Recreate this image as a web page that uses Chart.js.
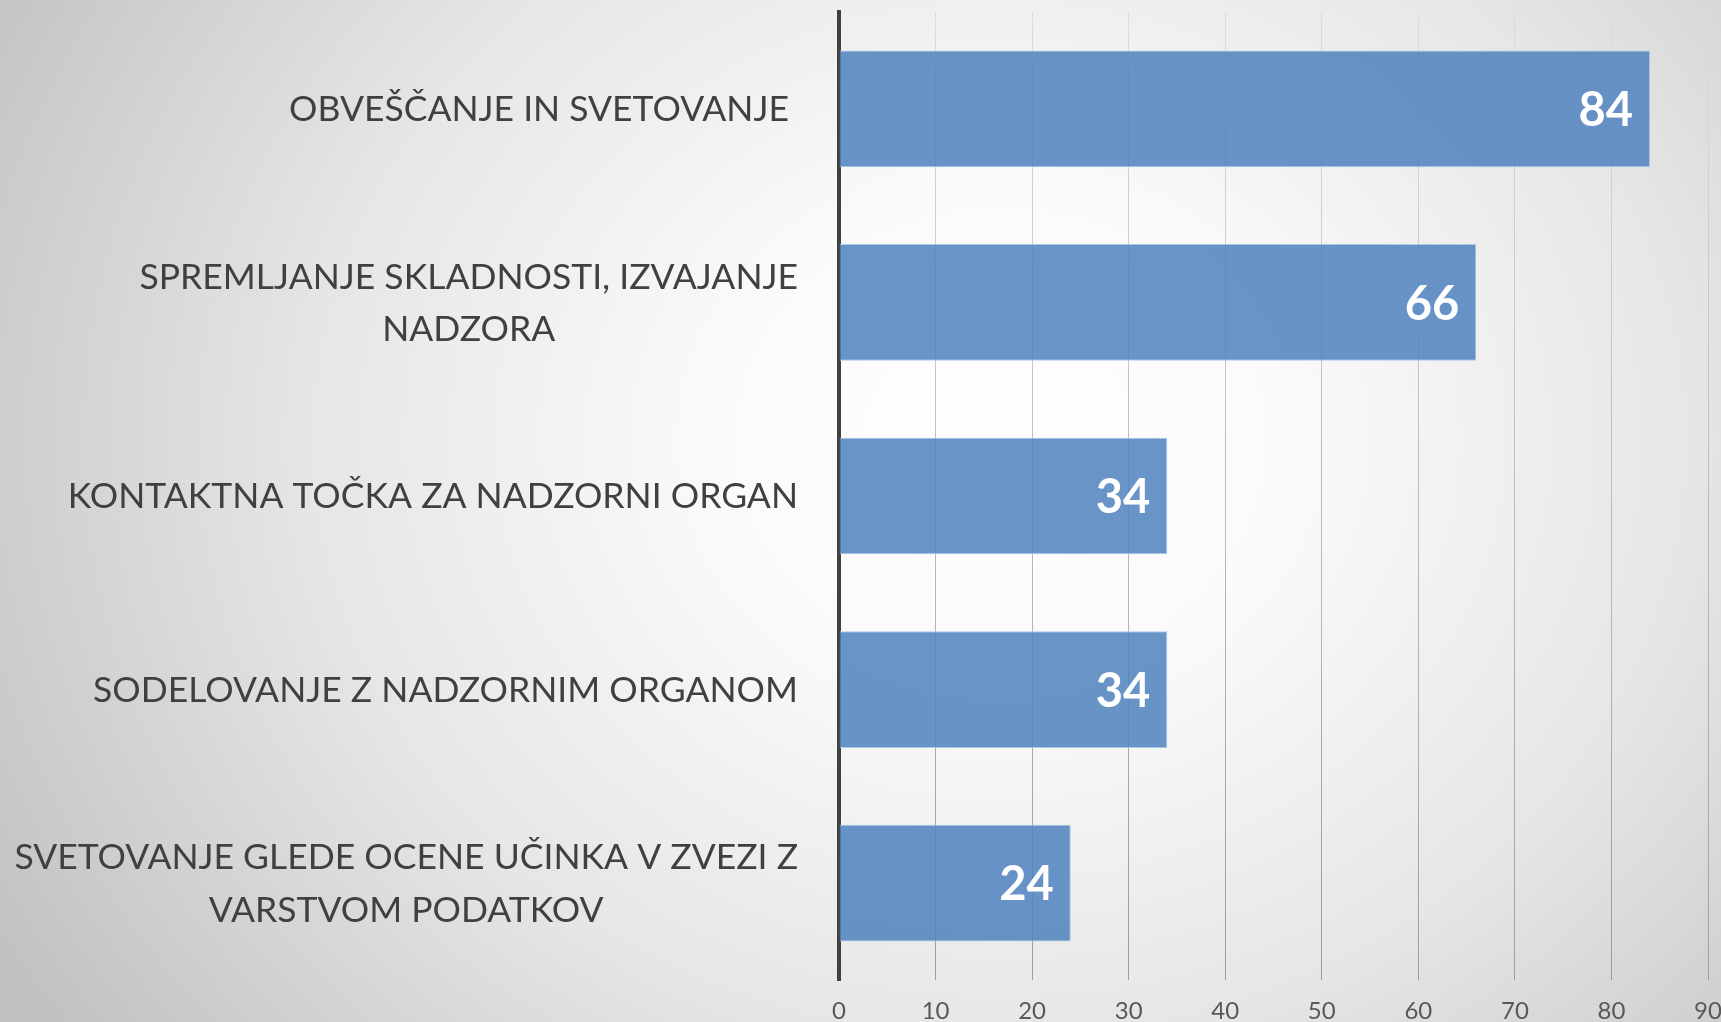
<!DOCTYPE html>
<html>
<head>
<meta charset="utf-8">
<script src="https://cdn.jsdelivr.net/npm/chart.js@4.4.1/dist/chart.umd.min.js"></script>
<style>
  html, body { margin: 0; padding: 0; width: 1721px; height: 1022px; overflow: hidden; }
  body {
    background: radial-gradient(ellipse 1150px 1000px at 1000px 440px,
      #ffffff 0%, #fafafa 25%, #e6e6e6 60%, #cbcbcb 90%, #c2c2c2 100%);
  }
  #wrap { position: absolute; left: 0; top: 0; width: 1721px; height: 1022px; }
</style>
</head>
<body>
<div id="wrap"><canvas id="c" width="1721" height="1022"></canvas></div>
<script>
const categories = [
  ["OBVEŠČANJE IN SVETOVANJE "],
  ["SPREMLJANJE SKLADNOSTI, IZVAJANJE", "NADZORA"],
  ["KONTAKTNA TOČKA ZA NADZORNI ORGAN"],
  ["SODELOVANJE Z NADZORNIM ORGANOM"],
  ["SVETOVANJE GLEDE OCENE UČINKA V ZVEZI Z", "VARSTVOM PODATKOV"]
];
const values = [84, 66, 34, 34, 24];
const xMin = 0;
const xMax = 90;
const xStep = 10;

const valueLabels = {
  id: 'valueLabels',
  afterDatasetsDraw(chart) {
    const ctx = chart.ctx;
    const meta = chart.getDatasetMeta(0);
    ctx.save();
    ctx.font = 'bold 47px Lato';
    ctx.fillStyle = '#ffffff';
    ctx.textAlign = 'right';
    ctx.textBaseline = 'middle';
    meta.data.forEach((bar, i) => {
      ctx.fillText(String(values[i]), bar.x - 17, bar.y + 2);
    });
    ctx.restore();
  }
};

const categoryLabels = {
  id: 'categoryLabels',
  afterDraw(chart) {
    const ctx = chart.ctx;
    const yScale = chart.scales.y;
    const right = chart.chartArea.left - 41;
    const lh = 52.7;
    ctx.save();
    ctx.font = '35.5px Lato';
    ctx.fillStyle = '#404040';
    ctx.textAlign = 'center';
    ctx.textBaseline = 'middle';
    categories.forEach((lines, i) => {
      const cy = yScale.getPixelForValue(i);
      const w = Math.max(...lines.map(l => ctx.measureText(l).width));
      const cx = right - w / 2;
      lines.forEach((l, j) => {
        ctx.fillText(l, cx, cy + (j - (lines.length - 1) / 2) * lh + 1);
      });
    });
    ctx.restore();
  }
};

new Chart(document.getElementById('c'), {
  type: 'bar',
  data: {
    labels: categories,
    datasets: [{
      data: values,
      backgroundColor: 'rgba(79,129,189,0.85)',
      borderColor: 'rgba(172,198,230,1)',
      borderWidth: 1,
      barPercentage: 1,
      categoryPercentage: 0.603
    }]
  },
  options: {
    indexAxis: 'y',
    responsive: false,
    animation: false,
    devicePixelRatio: 1,
    layout: { padding: { top: 12, left: 0, right: 0, bottom: 0 } },
    plugins: { legend: { display: false }, tooltip: { enabled: false } },
    scales: {
      x: {
        type: 'linear',
        min: xMin,
        max: xMax,
        ticks: {
          stepSize: xStep,
          color: '#595959',
          font: { family: 'Lato', size: 24 },
          padding: 17
        },
        grid: {
          drawTicks: false,
          lineWidth: 1,
          color: (c) => {
            const ch = c.chart;
            const a = ch.chartArea;
            if (!a) return '#bbbbbb';
            const g = ch.ctx.createLinearGradient(0, a.top, 0, a.bottom);
            g.addColorStop(0, '#dcdcdc');
            g.addColorStop(1, '#9c9c9c');
            return g;
          }
        },
        border: { display: false },
        afterFit(s) { s.height = 42; s.paddingRight = 13; s.paddingLeft = 0; }
      },
      y: {
        type: 'category',
        ticks: { display: false },
        grid: { display: false, drawTicks: false },
        border: { display: true, color: '#404040', width: 4 },
        afterFit(s) { s.width = 839; }
      }
    }
  },
  plugins: [valueLabels, categoryLabels]
});
</script>
</body>
</html>
